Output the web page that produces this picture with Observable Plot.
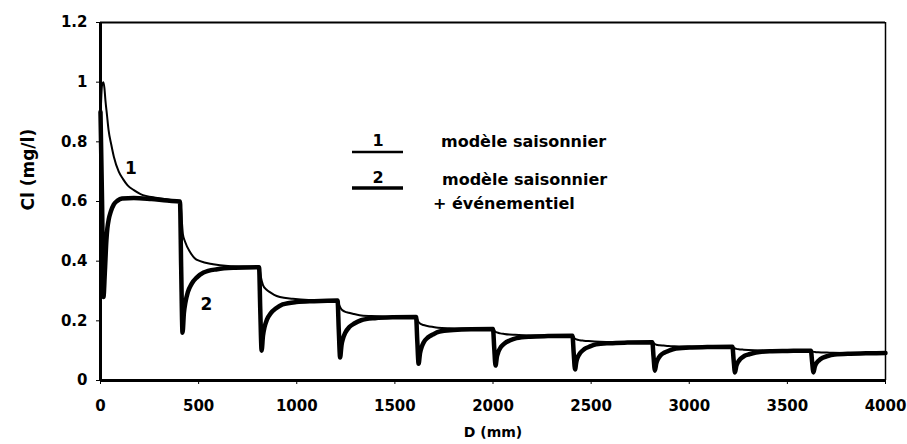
<!DOCTYPE html>
<html>
<head>
<meta charset="utf-8">
<script src="https://cdn.jsdelivr.net/npm/d3@7"></script>
<script src="https://cdn.jsdelivr.net/npm/@observablehq/plot@0.6"></script>
<style>
  html, body { margin: 0; padding: 0; background: #fff; }
  #chart { position: relative; width: 907px; height: 444px; }
</style>
</head>
<body>
<div id="chart"></div>
<script>
// ---- data ----
const xTicks = [0, 500, 1000, 1500, 2000, 2500, 3000, 3500, 4000];
const yTicks = [0, 0.2, 0.4, 0.6, 0.8, 1, 1.2];

// curve 1 : modèle saisonnier (thin line)
const curve1X = [0,8,15,20,25,33,41,55,68,93,115,137,170,204,290,350,405,
  410,415,420,431,457,480,508,574,650,808,
  812,818,828,845,863,885,914,980,1060,1208,
  1212,1218,1228,1245,1265,1290,1320,1380,1460,1608,
  1612,1618,1628,1645,1665,1690,1720,1780,1860,2000,
  2004,2010,2020,2037,2057,2082,2112,2172,2252,2405,
  2409,2415,2425,2442,2462,2487,2517,2577,2657,2812,
  2816,2822,2832,2849,2869,2894,2924,2984,3064,3220,
  3224,3230,3240,3257,3277,3302,3332,3392,3472,3620,
  3624,3630,3640,3657,3677,3702,3732,3792,3872,4000];
const curve1Y = [0.88,0.99,1.0,0.98,0.94,0.89,0.84,0.79,0.75,0.70,0.675,0.655,0.638,0.625,0.612,0.606,0.60,
  0.58,0.53,0.49,0.465,0.43,0.41,0.40,0.39,0.384,0.38,
  0.37,0.345,0.32,0.305,0.296,0.287,0.28,0.274,0.27,0.268,
  0.262,0.25,0.238,0.231,0.227,0.223,0.219,0.216,0.214,0.213,
  0.209,0.199,0.191,0.186,0.183,0.180,0.177,0.175,0.174,0.173,
  0.171,0.165,0.161,0.158,0.156,0.154,0.153,0.151,0.1505,0.150,
  0.148,0.142,0.138,0.135,0.1335,0.132,0.1305,0.129,0.1285,0.128,
  0.1265,0.123,0.120,0.118,0.117,0.1157,0.1147,0.1137,0.1133,0.113,
  0.112,0.1085,0.106,0.1043,0.1033,0.1023,0.1015,0.1007,0.1003,0.100,
  0.099,0.097,0.0957,0.0946,0.094,0.0935,0.093,0.0925,0.0922,0.092];

// curve 2 : modèle saisonnier + événementiel (thick line)
const curve2X = [0,8,15,22,30,35,42,52,68,87,110,170,260,340,405,
  411,418,425,433,445,465,490,525,595,685,808,
  814,821,828,836,848,868,893,928,998,1088,1208,
  1214,1221,1228,1236,1248,1268,1293,1328,1398,1488,1608,
  1614,1621,1628,1636,1648,1668,1693,1728,1798,1888,2000,
  2006,2013,2020,2028,2040,2060,2085,2120,2190,2280,2405,
  2411,2418,2425,2433,2445,2465,2490,2525,2595,2685,2812,
  2818,2825,2832,2840,2852,2872,2897,2932,3002,3092,3220,
  3226,3233,3240,3248,3260,3280,3305,3340,3410,3500,3620,
  3626,3633,3640,3648,3660,3680,3705,3740,3810,3900,4000];
const curve2Y = [0.9,0.6,0.28,0.36,0.47,0.51,0.54,0.565,0.59,0.603,0.61,0.612,0.608,0.603,0.60,
  0.38,0.16,0.226,0.263,0.296,0.325,0.345,0.362,0.373,0.378,0.38,
  0.24,0.10,0.150,0.179,0.204,0.226,0.241,0.255,0.263,0.266,0.268,
  0.172,0.077,0.118,0.141,0.161,0.179,0.191,0.202,0.209,0.212,0.213,
  0.135,0.056,0.091,0.111,0.129,0.144,0.154,0.164,0.169,0.172,0.173,
  0.112,0.05,0.08,0.097,0.112,0.125,0.134,0.142,0.147,0.149,0.150,
  0.094,0.037,0.064,0.080,0.093,0.105,0.113,0.121,0.125,0.127,0.128,
  0.08,0.033,0.057,0.071,0.083,0.093,0.100,0.107,0.111,0.112,0.113,
  0.07,0.027,0.049,0.061,0.072,0.082,0.088,0.094,0.098,0.099,0.100,
  0.063,0.027,0.047,0.058,0.067,0.076,0.082,0.087,0.090,0.091,0.092];

// curve number labels placed next to the curves
const labelText = ["1", "2"];
const labelX = [155, 540];
const labelY = [0.71, 0.255];

const legendNumbers = ["1", "2"];
const legendTexts = [["modèle saisonnier"], ["modèle saisonnier", "+ événementiel"]];

const xLabel = "D (mm)";
const yLabel = "Cl (mg/l)";

// ---- build tables ----
const c1 = curve1X.map((x, i) => ({x, y: curve1Y[i]}));
const c2 = curve2X.map((x, i) => ({x, y: curve2Y[i]}));
const labels = labelText.map((t, i) => ({t, x: labelX[i], y: labelY[i]}));

const FONT = "DejaVu Sans";

const svg = Plot.plot({
  width: 907,
  height: 444,
  marginLeft: 100,
  marginRight: 22,
  marginTop: 22,
  marginBottom: 64,
  x: {domain: [0, 4000]},
  y: {domain: [0, 1.2]},
  style: {fontFamily: FONT, fontSize: "15px", fontWeight: "bold", background: "#fff", color: "#000"},
  marks: [
    Plot.axisX({ticks: xTicks, tickSize: 4, tickPadding: 16, label: null, tickFormat: d => String(d)}),
    Plot.axisY({ticks: yTicks, tickSize: 4, tickPadding: 9, label: null, tickFormat: d => String(+d.toFixed(1))}),
    Plot.ruleY([1.2], {stroke: "#000", strokeWidth: 2}),
    Plot.ruleX([4000], {stroke: "#000", strokeWidth: 1.5}),
    Plot.line(c2, {x: "x", y: "y", stroke: "#000", strokeWidth: 4.5, curve: "monotone-x"}),
    Plot.line(c1, {x: "x", y: "y", stroke: "#000", strokeWidth: 2, curve: "monotone-x"}),
    Plot.ruleY([0], {stroke: "#000", strokeWidth: 3}),
    Plot.ruleX([0], {stroke: "#000", strokeWidth: 3}),
    Plot.text(labels, {x: "x", y: "y", text: "t", fontSize: 17, fontWeight: "bold"}),
    Plot.text([xLabel], {frameAnchor: "bottom", dy: 56, fontSize: 14, fontWeight: "bold"}),
    Plot.text([yLabel], {frameAnchor: "left", dx: -72, dy: 9, rotate: -90, fontSize: 17, fontWeight: "bold"})
  ]
});

// legend drawn inside the plot area
const g = d3.select(svg).append("g")
  .attr("font-family", FONT).attr("fill", "#000").attr("text-anchor", "start");
const legendRows = [
  {num: legendNumbers[0], lineY: 152, lineW: 2.5, numY: 146, lines: legendTexts[0], textX: 441, textY: 147},
  {num: legendNumbers[1], lineY: 188, lineW: 3.5, numY: 183, lines: legendTexts[1], textX: 442, textY: 185}
];
legendRows.forEach(r => {
  g.append("line").attr("x1", 352).attr("x2", 403).attr("y1", r.lineY).attr("y2", r.lineY)
    .attr("stroke", "#000").attr("stroke-width", r.lineW);
  g.append("text").attr("x", 378).attr("y", r.numY).attr("text-anchor", "middle")
    .attr("font-size", 16).attr("font-weight", "bold").text(r.num);
  r.lines.forEach((t, j) => {
    g.append("text").attr("x", j === 0 ? r.textX : 433).attr("y", r.textY + j * 24)
      .attr("text-anchor", "start")
      .attr("font-size", 16).attr("font-weight", "bold").text(t);
  });
});

document.getElementById("chart").appendChild(svg);
</script>
</body>
</html>
